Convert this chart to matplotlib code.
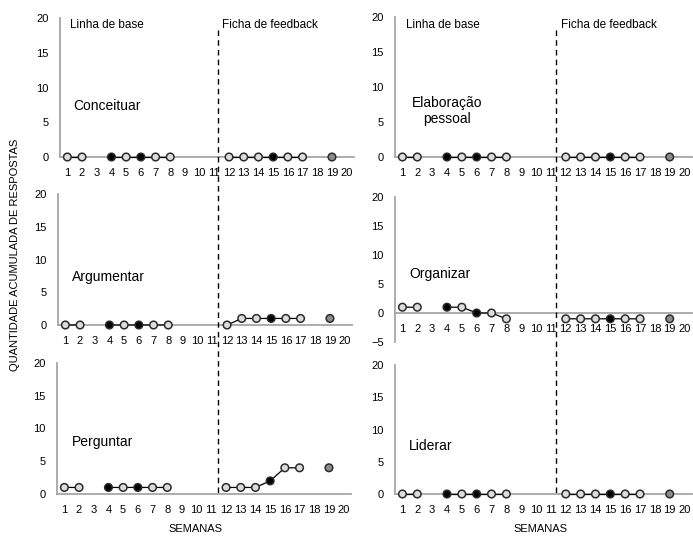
import numpy as np
import matplotlib.pyplot as plt

plt.rcParams['font.family'] = ['Liberation Sans', 'DejaVu Sans']

# Weeks and data (nan = no session)
weeks = np.arange(1, 21)
nan = np.nan
conceituar = [0, 0, nan, 0, 0, 0, 0, 0, nan, nan, nan, 0, 0, 0, 0, 0, 0, nan, 0, nan]
argumentar = [0, 0, nan, 0, 0, 0, 0, 0, nan, nan, nan, 0, 1, 1, 1, 1, 1, nan, 1, nan]
perguntar = [1, 1, nan, 1, 1, 1, 1, 1, nan, nan, nan, 1, 1, 1, 2, 4, 4, nan, 4, nan]
elaboracao = [0, 0, nan, 0, 0, 0, 0, 0, nan, nan, nan, 0, 0, 0, 0, 0, 0, nan, 0, nan]
organizar = [1, 1, nan, 1, 1, 0, 0, -1, nan, nan, nan, -1, -1, -1, -1, -1, -1, nan, -1, nan]
liderar = [0, 0, nan, 0, 0, 0, 0, 0, nan, nan, nan, 0, 0, 0, 0, 0, 0, nan, 0, nan]

# marker fill per week: black for weeks 4, 6, 15
black_weeks = [4, 6, 15]
dark_weeks = [19]

W, H = 693, 536


def fx(px):
    return px / W


def fy(py):
    return 1 - py / H


fig = plt.figure(figsize=(W / 100, H / 100), dpi=100)

# (data, left px, right px, top px, bottom px, ymin, label, label pos, align)
panels = [
    (conceituar, 60, 354, 18, 157, 0, 'Conceituar', (73, 106), 'left'),
    (elaboracao, 395, 692, 17, 157, 0, 'Elaboração\npessoal', (447, 111), 'center'),
    (argumentar, 58, 352, 194, 325, 0, 'Argumentar', (72, 277), 'left'),
    (organizar, 395, 692, 197, 342, -5, 'Organizar', (409, 274), 'left'),
    (perguntar, 57, 351, 363, 494, 0, 'Perguntar', (72, 442), 'left'),
    (liderar, 395, 692, 365, 494, 0, 'Liderar', (409, 446), 'left'),
]

grey = '#a6a6a6'
for data, l, r, t, b, ymin, name, (tx, ty), ha in panels:
    ax = fig.add_axes([fx(l), fy(b), (r - l) / W, (b - t) / H])
    y = np.array(data, dtype=float)
    ax.plot(weeks, y, color='black', linewidth=0.9, zorder=3, clip_on=False)
    face = ['black' if w in black_weeks else ('#8c8c8c' if w in dark_weeks else '#dcdcdc')
            for w in weeks]
    ax.scatter(weeks, y, s=30, c=face, edgecolors='#2b2b2b', linewidths=1.1,
               zorder=4, clip_on=False)
    ax.set_xlim(0.5, 20.5)
    ax.set_ylim(ymin, 20)
    ax.set_yticks(np.arange(ymin, 21, 5))
    ax.set_xticks(weeks)
    ax.set_xticklabels([str(w) for w in weeks])
    ax.spines['top'].set_visible(False)
    ax.spines['right'].set_visible(False)
    ax.spines['bottom'].set_position(('data', 0))
    ax.spines['bottom'].set_color(grey)
    ax.spines['left'].set_color(grey)
    ax.spines['bottom'].set_linewidth(1.3)
    ax.spines['left'].set_linewidth(1.3)
    ax.spines['bottom'].set_zorder(1)
    ax.tick_params(axis='both', length=0, labelsize=8, colors='black')
    ax.tick_params(axis='x', pad=8)
    ax.tick_params(axis='y', pad=8)
    ax.patch.set_alpha(0)
    fig.text(fx(tx), fy(ty), name, fontsize=10, ha=ha, va='center',
             multialignment='center')

# phase change dashed lines
for x_px in (218, 556):
    fig.add_artist(plt.Line2D([fx(x_px), fx(x_px)], [fy(30), fy(496)],
                              color='black', linestyle=(0, (4, 3)), linewidth=1))

# phase titles
for x_base, x_fb in ((70, 222), (406, 561)):
    fig.text(fx(x_base), fy(25), 'Linha de base', fontsize=8.5, ha='left', va='center')
    fig.text(fx(x_fb), fy(25), 'Ficha de feedback', fontsize=8.5, ha='left', va='center')

fig.text(fx(15), fy(255), 'QUANTIDADE ACUMULADA DE RESPOSTAS', fontsize=8,
         rotation=90, ha='center', va='center')
fig.text(fx(195), fy(529), 'SEMANAS', fontsize=8, ha='center', va='center')
fig.text(fx(540), fy(529), 'SEMANAS', fontsize=8, ha='center', va='center')

fig.savefig('out.png', dpi=100)
